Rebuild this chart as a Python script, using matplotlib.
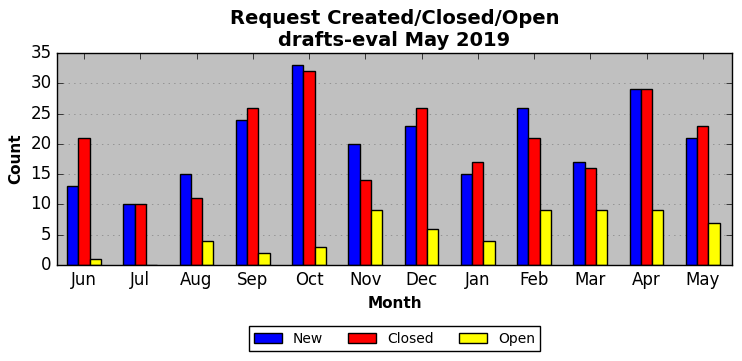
import matplotlib
matplotlib.use("Agg")
import matplotlib.pyplot as plt
import numpy as np

plt.style.use("classic")

months = ["Jun", "Jul", "Aug", "Sep", "Oct", "Nov", "Dec", "Jan", "Feb", "Mar", "Apr", "May"]
new = [13, 10, 15, 24, 33, 20, 23, 15, 26, 17, 29, 21]
closed = [21, 10, 11, 26, 32, 14, 26, 17, 21, 16, 29, 23]
opened = [1, 0, 4, 2, 3, 9, 6, 4, 9, 9, 9, 7]

x = np.arange(len(months))
width = 0.2

fig = plt.figure(figsize=(7.42, 3.61), dpi=100, facecolor="white")
ax = fig.add_axes([57 / 742, 1 - 265 / 361, 675 / 742, 212 / 361])
ax.set_facecolor("#c0c0c0")

ax.bar(x - width * 1.5, new, width, color="blue", label="New")
ax.bar(x - width * 0.5, closed, width, color="red", label="Closed")
ax.bar(x + width * 0.5, opened, width, color="yellow", label="Open")

ax.set_xticks(x - width * 0.5)
ax.set_xticklabels(months)
ax.set_xlim(-0.58, 11.42)
ax.set_ylim(0, 35)
ax.yaxis.grid(True, linestyle=":", color="gray")
ax.set_axisbelow(True)

ax.set_title("Request Created/Closed/Open\ndrafts-eval May 2019", fontsize=14, fontweight="bold")
ax.set_ylabel("Count", fontweight="bold", fontsize=11)
ax.set_xlabel("Month", fontweight="bold", fontsize=11)

ax.legend(loc="upper center", bbox_to_anchor=(0.5, -0.255), ncol=3, fontsize=10,
          fancybox=False, frameon=True, columnspacing=1.8)

fig.savefig("out.png", dpi=100, facecolor="white")
